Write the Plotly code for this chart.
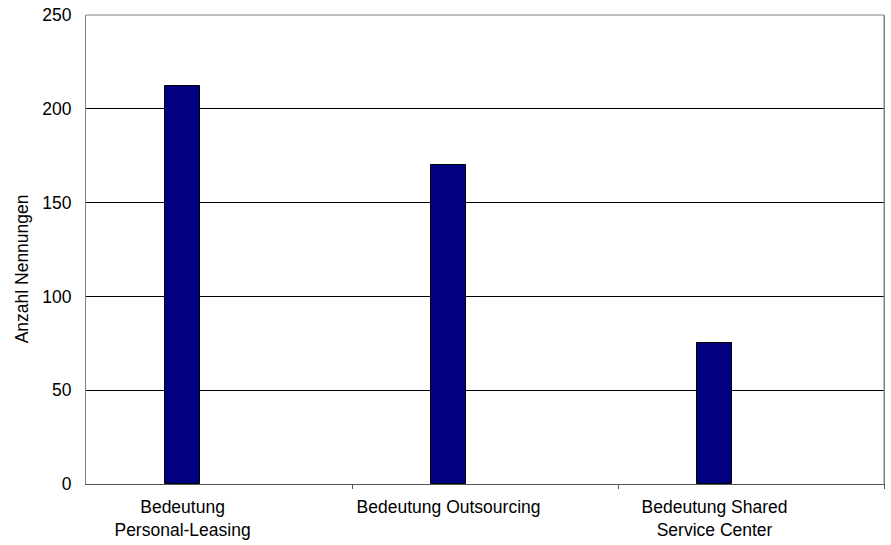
import plotly.graph_objects as go

categories = ["Bedeutung<br>Personal-Leasing", "Bedeutung Outsourcing", "Bedeutung Shared<br>Service Center"]
values = [212, 170, 75]
y_ticks = [0, 50, 100, 150, 200, 250]
y_title = "Anzahl Nennungen"

FONT = "Liberation Sans, Arial, sans-serif"
pos = list(range(len(categories)))
bounds = [p + 0.637 for p in pos]

fig = go.Figure()
fig.add_trace(go.Bar(
    x=pos, y=values, width=0.132,
    marker=dict(color="#000080", line=dict(color="#000000", width=1)),
    showlegend=False, hoverinfo="skip",
))
# invisible trace for boundary tick marks
fig.add_trace(go.Scatter(x=[bounds[0]], y=[0], xaxis="x2", mode="markers",
                         marker=dict(opacity=0), showlegend=False, hoverinfo="skip"))

fig.update_layout(
    width=891, height=545,
    margin=dict(l=86, r=7, t=15, b=61),
    paper_bgcolor="white", plot_bgcolor="white",
    font=dict(family=FONT, size=17.5, color="#000000"),
    bargap=0,
    xaxis=dict(
        range=[-0.363, 2.637], tickvals=pos, ticktext=categories, automargin=False,
        showgrid=False, zeroline=False, showline=True, linecolor="#555555", linewidth=1,
        ticks="outside", ticklen=7, tickcolor="rgba(0,0,0,0)",
        tickfont=dict(size=17.5, family=FONT),
    ),
    xaxis2=dict(
        overlaying="x", side="bottom", range=[-0.363, 2.637], anchor="y", automargin=False,
        tickvals=bounds, ticktext=["", "", ""], ticks="outside", ticklen=4,
        tickcolor="#555555", showgrid=False, zeroline=False, showline=False,
    ),
    yaxis=dict(
        range=[0, 250], tickvals=y_ticks, showgrid=True, gridcolor="#000000", gridwidth=1,
        zeroline=False, showline=True, mirror=True, linecolor="#808080", linewidth=1,
        ticks="outside", ticklen=10, tickcolor="rgba(0,0,0,0)", automargin=False,
        tickfont=dict(size=17.5, family=FONT),
    ),
    annotations=[dict(
        text=y_title, textangle=-90, xref="paper", yref="paper",
        x=-0.080, y=0.458, xanchor="center", yanchor="middle", showarrow=False,
        font=dict(size=17.5, family=FONT),
    )],
    shapes=[
        dict(type="line", xref="paper", yref="paper", x0=0, x1=1, y0=1, y1=1,
             line=dict(color="#808080", width=1)),
        dict(type="line", xref="paper", yref="paper", x0=1, x1=1, y0=0, y1=1,
             line=dict(color="#808080", width=1)),
    ],
)

fig.write_html(
    "out.html",
    config={"displayModeBar": False},
    post_script="document.body.style.margin='0';document.body.style.overflow='hidden';",
)
